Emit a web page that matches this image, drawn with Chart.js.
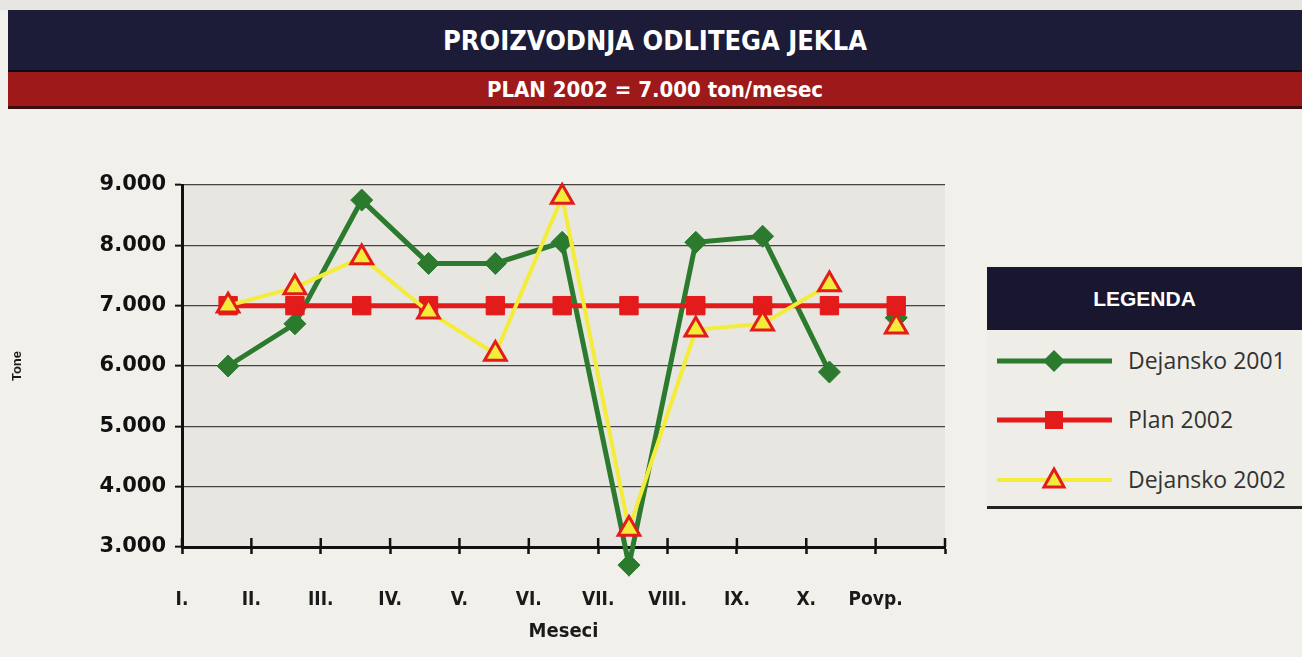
<!DOCTYPE html>
<html>
<head>
<meta charset="utf-8">
<script src="https://cdn.jsdelivr.net/npm/chart.js@4/dist/chart.umd.min.js"></script>
<style>
body { margin: 0; width: 1302px; height: 657px; background: #f2f0eb; overflow: hidden; position: relative; font-family: 'Liberation Sans', Arial, sans-serif; }
#strip { position: absolute; left: 0; top: 0; width: 1302px; height: 10px; background: #e7e6e3; }
#head1 { position: absolute; left: 8px; top: 10px; width: 1294px; height: 62px; background: #1c1b38; color: #fff;
  font: bold 27px 'Liberation Sans Narrow', 'DejaVu Sans Condensed', sans-serif; text-align: center; line-height: 62px; border-bottom: 2px solid #0c0b18; box-sizing: border-box; }
#head2 { position: absolute; left: 8px; top: 72px; width: 1294px; height: 37px; background: #9e1a1a; color: #fff;
  font: bold 22px 'Liberation Sans Narrow', 'DejaVu Sans Condensed', sans-serif; text-align: center; line-height: 36px; border-bottom: 3px solid #3a0e0e; box-sizing: border-box; }
#wrap { position: absolute; left: 0; top: 110px; width: 980px; height: 547px; }
#legend { position: absolute; left: 987px; top: 267px; width: 315px; height: 242px; background: #efede8; border-bottom: 3px solid #222; box-sizing: border-box; }
#legend .hd { height: 63px; background: #18172f; color: #fff; font: bold 21px 'Liberation Sans', Arial, sans-serif; text-align: center; line-height: 63px; }
#legend .row { position: absolute; left: 0; height: 30px; width: 315px; }
#legend .row svg { position: absolute; left: 8px; top: 0; }
#legend .row span { position: absolute; left: 141px; top: 0px; font: 23px 'Open Sans', 'Liberation Sans', sans-serif; color: #333; line-height: 28px; white-space: nowrap; }
</style>
</head>
<body>
<div id="strip"></div>
<div id="head1">PROIZVODNJA ODLITEGA JEKLA</div>
<div id="head2">PLAN 2002 = 7.000 ton/mesec</div>
<div id="wrap"><canvas id="chart" width="980" height="547"></canvas></div>
<div id="legend"><div class="hd">LEGENDA</div></div>
<script>
const months = ['I.', 'II.', 'III.', 'IV.', 'V.', 'VI.', 'VII.', 'VIII.', 'IX.', 'X.', 'Povp.'];
const dejansko2001 = [6000, 6700, 8750, 7700, 7700, 8050, 2700, 8050, 8150, 5900, 6800];
const plan2002 = [7000, 7000, 7000, 7000, 7000, 7000, 7000, 7000, 7000, 7000, 7000];
const dejansko2002 = [7000, 7300, 7800, 6900, 6200, 8800, 3300, 6600, 6700, 7350, 6650];

const green = '#2b7a2d';
const red = '#e41b1b';
const yellow = '#f3ec3a';

function toPoints(values) {
    return values.map((v, i) => ({ x: i, y: v }));
}

// the average (Povp.) is not joined to the monthly line
function hideLast(color) {
    return function (ctx) {
        return ctx.p1DataIndex === months.length - 1 ? 'rgba(0,0,0,0)' : color;
    };
}

const fmt = v => String(v).replace(/\B(?=(\d{3})+(?!\d))/g, '.');

const plotBg = {
    id: 'plotBg',
    beforeDraw(chart) {
        const { ctx, chartArea: a } = chart;
        ctx.save();
        ctx.fillStyle = '#e8e6e1';
        ctx.fillRect(a.left, a.top, a.right - a.left, a.bottom - a.top);
        ctx.restore();
    },
    beforeDatasetsDraw(chart) {
        // tick marks of the month axis also poke up into the plot
        const ctx = chart.ctx;
        const s = chart.scales.xt;
        ctx.save();
        ctx.strokeStyle = '#111';
        ctx.lineWidth = 2.5;
        s.ticks.forEach(t => {
            const x = s.getPixelForValue(t.value);
            ctx.beginPath();
            ctx.moveTo(x, s.top - 9);
            ctx.lineTo(x, s.top);
            ctx.stroke();
        });
        ctx.restore();
    },
    afterDatasetDraw(chart, args) {
        // markers that fall below the axis (VII.) are skipped by chart.js, draw them anyway
        const a = chart.chartArea;
        args.meta.data.forEach(el => {
            if (el.y > a.bottom + 8) el.draw(chart.ctx);
        });
    }
};

const datasets = [
    {
        label: 'Dejansko 2001',
        data: toPoints(dejansko2001),
        borderColor: green,
        backgroundColor: green,
        borderWidth: 5,
        pointStyle: 'rectRot',
        pointRadius: 11,
        pointBorderWidth: 1,
        pointBackgroundColor: green,
        pointBorderColor: green,
        segment: { borderColor: hideLast(green) },
        order: 3,
        clip: false
    },
    {
        label: 'Plan 2002',
        data: toPoints(plan2002),
        borderColor: red,
        backgroundColor: red,
        borderWidth: 5,
        pointStyle: 'rect',
        pointRadius: 13,
        pointBorderWidth: 1,
        pointBackgroundColor: red,
        pointBorderColor: red,
        order: 2,
        clip: false
    },
    {
        label: 'Dejansko 2002',
        data: toPoints(dejansko2002),
        borderColor: yellow,
        backgroundColor: yellow,
        borderWidth: 4,
        pointStyle: 'triangle',
        pointRadius: 12.5,
        pointBorderWidth: 3,
        pointBackgroundColor: yellow,
        pointBorderColor: red,
        segment: { borderColor: hideLast(yellow) },
        order: 1,
        clip: false
    }
];

new Chart(document.getElementById('chart'), {
    type: 'line',
    data: { datasets: datasets },
    options: {
        responsive: false,
        animation: false,
        layout: { padding: { top: 75, right: 34, left: 0, bottom: 0 } },
        plugins: { legend: { display: false }, tooltip: { enabled: false } },
        elements: { line: { tension: 0 } },
        scales: {
            x: {
                type: 'linear',
                display: false,
                min: -0.69,
                max: 10.73
            },
            xt: {
                type: 'linear',
                position: 'bottom',
                min: 0,
                max: 11,
                afterFit: s => { s.height = 110; },
                ticks: {
                    stepSize: 1,
                    autoSkip: false,
                    maxRotation: 0,
                    padding: 35,
                    color: '#1a1a1a',
                    font: { family: "'Liberation Sans Narrow', 'DejaVu Sans Condensed', sans-serif", size: 19, weight: 'bold' },
                    callback: v => months[v] || ''
                },
                grid: { drawOnChartArea: false, tickLength: 7, tickColor: '#111', tickWidth: 2.5 },
                border: { display: true, color: '#111', width: 3 },
                title: {
                    display: true,
                    text: 'Meseci',
                    color: '#1a1a1a',
                    font: { family: "'Liberation Sans Narrow', 'DejaVu Sans Condensed', sans-serif", size: 20, weight: 'bold' },
                    padding: { top: 0, bottom: 13 }
                }
            },
            y: {
                min: 3000,
                max: 9000,
                afterFit: s => { s.width = 182; },
                ticks: {
                    stepSize: 1000,
                    padding: 9,
                    color: '#111',
                    font: { family: "'DejaVu Sans', sans-serif", size: 21, weight: 'bold' },
                    callback: v => fmt(v)
                },
                grid: { color: '#444', lineWidth: 1.3, tickLength: 7, tickColor: '#111', tickWidth: 2 },
                border: { display: true, color: '#111', width: 3 },
                title: {
                    display: true,
                    text: 'Tone',
                    color: '#1a1a1a',
                    font: { family: "'Liberation Sans', sans-serif", size: 13, weight: 'bold' },
                    padding: { top: 10, bottom: 4 }
                }
            }
        }
    },
    plugins: [plotBg]
});

// legend box, built from the dataset styles
const legendBox = document.getElementById('legend');
const rowTops = [79, 138, 198];
datasets.forEach((ds, i) => {
    const row = document.createElement('div');
    row.className = 'row';
    row.style.top = rowTops[i] + 'px';
    const cx = 59, cy = 15;
    let marker = '';
    if (ds.pointStyle === 'rectRot') {
        marker = `<polygon points="${cx},${cy - 11} ${cx + 11},${cy} ${cx},${cy + 11} ${cx - 11},${cy}" fill="${ds.pointBackgroundColor}"/>`;
    } else if (ds.pointStyle === 'rect') {
        marker = `<rect x="${cx - 9}" y="${cy - 9}" width="18" height="18" fill="${ds.pointBackgroundColor}"/>`;
    } else {
        marker = `<polygon points="${cx},${cy - 11} ${cx + 10},${cy + 7} ${cx - 10},${cy + 7}" fill="${ds.pointBackgroundColor}" stroke="${ds.pointBorderColor}" stroke-width="3"/>`;
    }
    row.innerHTML = `<svg width="125" height="30"><line x1="2" y1="${cy}" x2="117" y2="${cy}" stroke="${ds.borderColor}" stroke-width="${ds.borderWidth}"/>${marker}</svg><span>${ds.label}</span>`;
    legendBox.appendChild(row);
});
</script>
</body>
</html>
